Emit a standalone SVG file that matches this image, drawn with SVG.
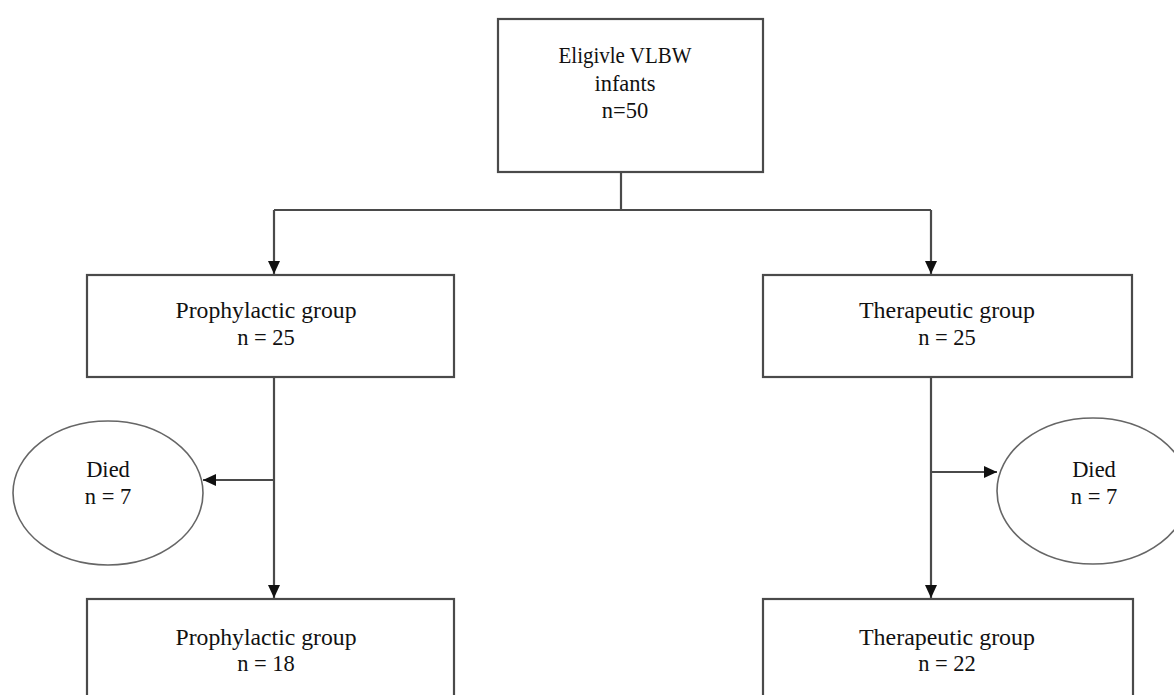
<svg xmlns="http://www.w3.org/2000/svg" width="1174" height="695" viewBox="0 0 1174 695">
<style>
.box{fill:#fff;stroke:#4a4a4a;stroke-width:2.2}
.ell{fill:#fff;stroke:#666;stroke-width:1.6}
.line{fill:none;stroke:#4a4a4a;stroke-width:2.2}
text{font-family:"Liberation Serif","Times New Roman",serif;font-size:22.5px;fill:#111;text-anchor:middle}
</style>
<defs>
<marker id="arr" markerUnits="userSpaceOnUse" markerWidth="14" markerHeight="14" viewBox="0 0 14 14" refX="13" refY="7" orient="auto">
<path d="M0,1 L13,7 L0,13 Z" fill="#111"/>
</marker>
</defs>
<rect width="1174" height="695" fill="#fff"/>
<g id="connectors">
<path class="line" d="M621,172 V210"/>
<path class="line" d="M274,210 H931"/>
<path class="line" d="M274,210 V274" marker-end="url(#arr)"/>
<path class="line" d="M931,210 V274" marker-end="url(#arr)"/>
<path class="line" d="M274,377 V598" marker-end="url(#arr)"/>
<path class="line" d="M931,377 V598" marker-end="url(#arr)"/>
<path class="line" d="M274,480 H203" marker-end="url(#arr)"/>
<path class="line" d="M931,472 H997" marker-end="url(#arr)"/>
</g>
<g id="eligible">
<rect class="box" x="498" y="19" width="265" height="153"/>
<text x="625" y="63" textLength="133" lengthAdjust="spacingAndGlyphs">Eligivle VLBW</text>
<text x="625" y="91">infants</text>
<text x="625" y="118">n=50</text>
</g>
<g id="prophylactic">
<rect class="box" x="87" y="275" width="367" height="102"/>
<text x="266" y="318" textLength="181" lengthAdjust="spacingAndGlyphs">Prophylactic group</text>
<text x="266" y="345">n = 25</text>
</g>
<g id="therapeutic">
<rect class="box" x="763" y="275" width="369" height="102"/>
<text x="947" y="318" textLength="176" lengthAdjust="spacingAndGlyphs">Therapeutic group</text>
<text x="947" y="345">n = 25</text>
</g>
<g id="died-left">
<ellipse class="ell" cx="108" cy="493" rx="95" ry="72"/>
<text x="108" y="477">Died</text>
<text x="108" y="504">n = 7</text>
</g>
<g id="died-right">
<ellipse class="ell" cx="1093" cy="491" rx="96" ry="73"/>
<text x="1094" y="477">Died</text>
<text x="1094" y="504">n = 7</text>
</g>
<g id="prophylactic-final">
<rect class="box" x="87" y="599" width="367" height="110"/>
<text x="266" y="645" textLength="181" lengthAdjust="spacingAndGlyphs">Prophylactic group</text>
<text x="266" y="671">n = 18</text>
</g>
<g id="therapeutic-final">
<rect class="box" x="763" y="599" width="370" height="110"/>
<text x="947" y="645" textLength="176" lengthAdjust="spacingAndGlyphs">Therapeutic group</text>
<text x="947" y="671">n = 22</text>
</g>
</svg>
